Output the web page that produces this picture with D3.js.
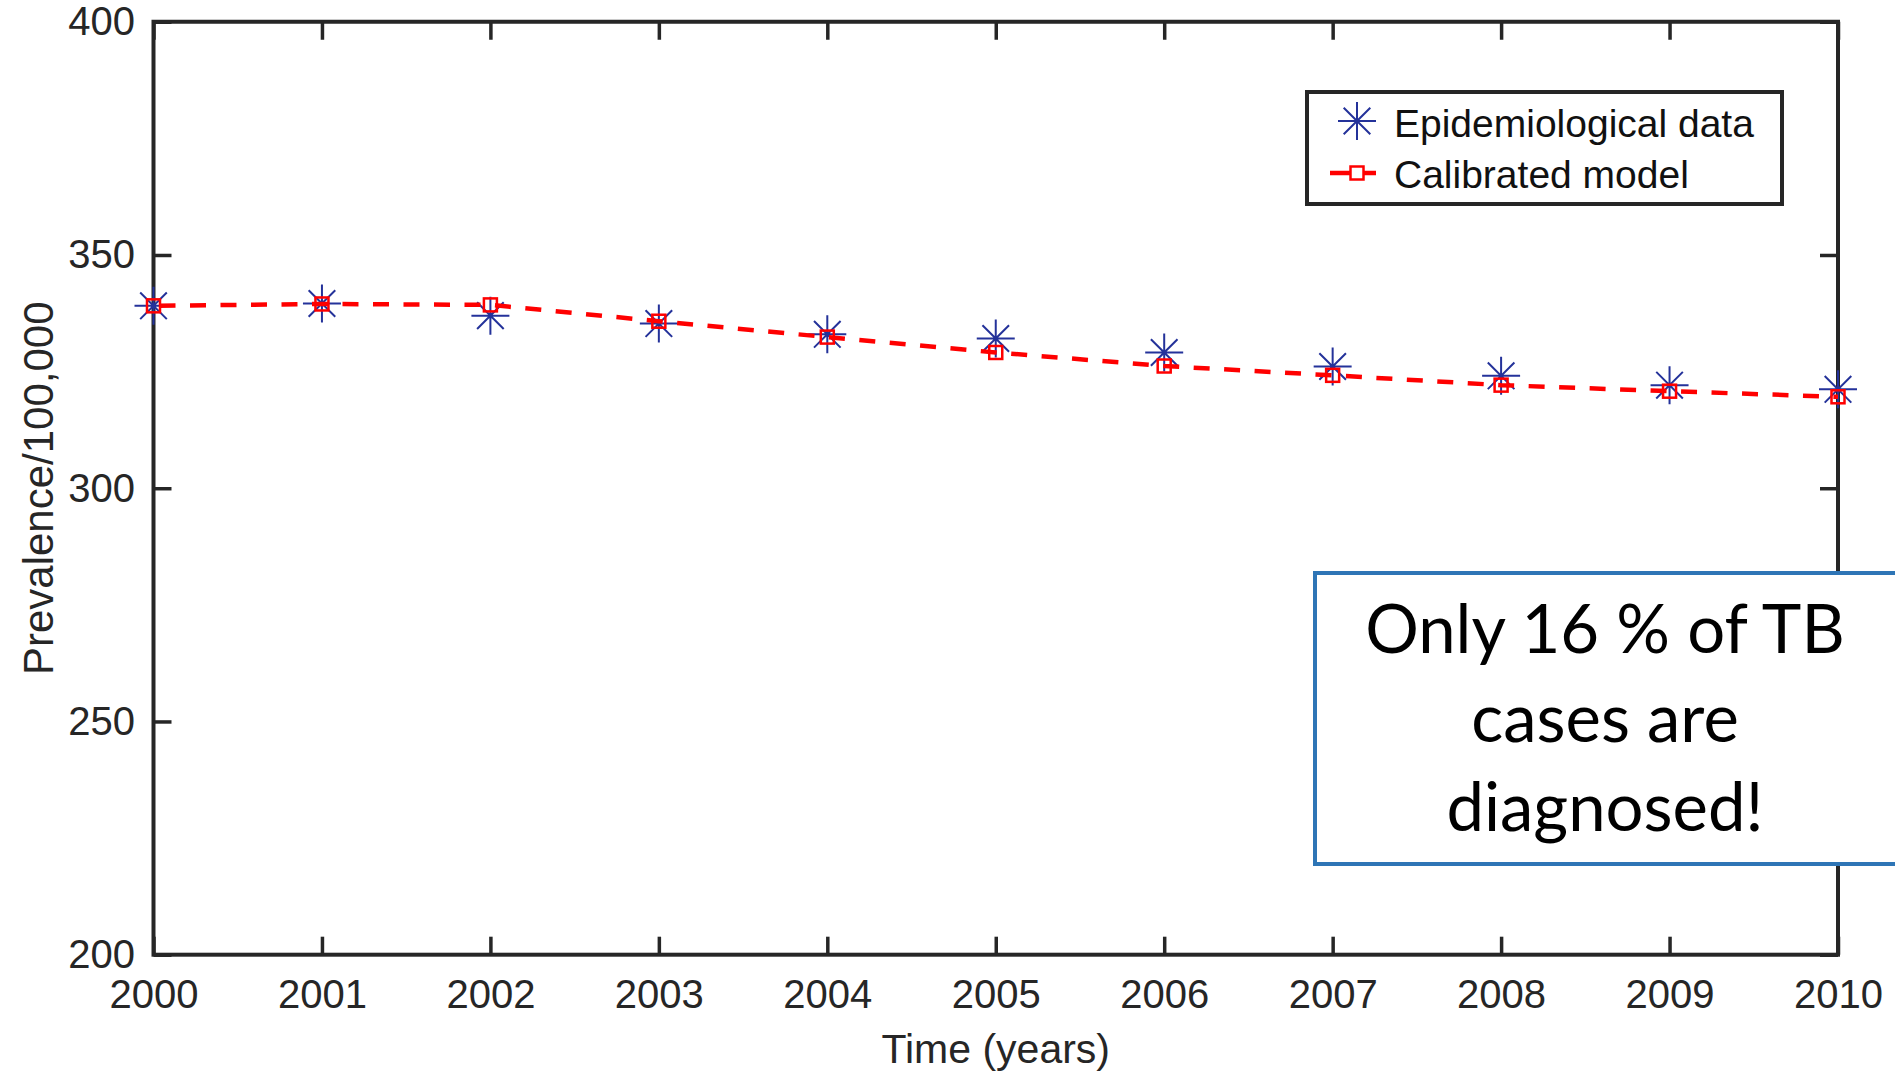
<!DOCTYPE html>
<html>
<head>
<meta charset="utf-8">
<script src="https://cdn.jsdelivr.net/npm/d3@7"></script>
<style>
  body { margin: 0; background: #fff; }
  svg { display: block; }
</style>
</head>
<body>
<div id="chart"></div>
<script>
// data
var years = [2000, 2001, 2002, 2003, 2004, 2005, 2006, 2007, 2008, 2009, 2010]
var epiData = [339.1, 339.6, 337.0, 335.3, 333.0, 332.1, 329.1, 326.1, 324.1, 322.1, 321.2]
var modelData = [339.1, 339.5, 339.3, 335.8, 332.4, 329.1, 326.2, 324.2, 322.1, 320.8, 319.6]
var yTicks = [200, 250, 300, 350, 400]
var legendLabels = ["Epidemiological data", "Calibrated model"]
var noteLines = ["Only 16 % of TB", "cases are", "diagnosed!"]

var width = 1895, height = 1073
var plotLeft = 153.5, plotRight = 1838, plotTop = 21.75, plotBottom = 954.7
var axisColor = "#262626"
var starColor = "#24329a"
var modelColor = "#ff0000"

var svg = d3.select("#chart").append("svg")
            .attr("width", width)
            .attr("height", height)

svg.append("rect")
   .attr("width", width)
   .attr("height", height)
   .attr("fill", "#fff")

var x = d3.scaleLinear().domain([2000, 2010]).range([plotLeft, plotRight])
var y = d3.scaleLinear().domain([200, 400]).range([plotBottom, plotTop])

// axes, ticks pointing inward
var axisFont = "'Liberation Sans', Arial, sans-serif"

svg.append("g")
   .attr("transform", "translate(0," + plotBottom + ")")
   .call(d3.axisBottom(x).tickValues(years).tickFormat(d3.format("d"))
           .tickSize(-18).tickSizeOuter(0).tickPadding(25))
svg.append("g")
   .attr("transform", "translate(" + plotLeft + ",0)")
   .call(d3.axisLeft(y).tickValues(yTicks)
           .tickSize(-18).tickSizeOuter(0).tickPadding(18.5))
svg.append("g")
   .attr("transform", "translate(0," + plotTop + ")")
   .call(d3.axisTop(x).tickValues(years).tickFormat("")
           .tickSize(-18).tickSizeOuter(0))
svg.append("g")
   .attr("transform", "translate(" + plotRight + ",0)")
   .call(d3.axisRight(y).tickValues(yTicks).tickFormat("")
           .tickSize(-18).tickSizeOuter(0))

svg.selectAll(".domain").remove()
svg.selectAll(".tick line")
   .attr("stroke", axisColor)
   .attr("stroke-width", 3.5)
svg.selectAll(".tick text")
   .attr("fill", axisColor)
   .attr("font-family", axisFont)
   .attr("font-size", 40)

// frame
svg.append("rect")
   .attr("x", plotLeft)
   .attr("y", plotTop)
   .attr("width", plotRight - plotLeft)
   .attr("height", plotBottom - plotTop)
   .attr("fill", "none")
   .attr("stroke", axisColor)
   .attr("stroke-width", 4)

// axis titles
svg.append("text")
   .attr("x", (plotLeft + plotRight) / 2)
   .attr("y", 1063)
   .attr("text-anchor", "middle")
   .attr("font-family", axisFont)
   .attr("font-size", 41)
   .attr("fill", axisColor)
   .text("Time (years)")

svg.append("text")
   .attr("transform", "translate(53," + (plotTop + plotBottom) / 2 + ") rotate(-90)")
   .attr("text-anchor", "middle")
   .attr("font-family", axisFont)
   .attr("font-size", 42)
   .attr("fill", axisColor)
   .text("Prevalence/100,000")

// star marker like matlab '*'
function star(r) {
  var d = r * 0.7
  return "M" + (-r) + ",0L" + r + ",0M0," + (-r) + "L0," + r +
         "M" + (-d) + "," + (-d) + "L" + d + "," + d +
         "M" + (-d) + "," + d + "L" + d + "," + (-d)
}

var pts = years.map(function(yr, i) { return {year: yr, epi: epiData[i], model: modelData[i]} })

svg.append("g").selectAll("path")
   .data(pts)
   .enter().append("path")
   .attr("transform", function(d) { return "translate(" + x(d.year) + "," + y(d.epi) + ")" })
   .attr("d", star(19))
   .attr("stroke", starColor)
   .attr("stroke-width", 2)
   .attr("fill", "none")

var line = d3.line()
             .x(function(d) { return x(d.year) })
             .y(function(d) { return y(d.model) })

svg.append("path")
   .datum(pts)
   .attr("d", line)
   .attr("fill", "none")
   .attr("stroke", modelColor)
   .attr("stroke-width", 4.5)
   .attr("stroke-dasharray", "16,14.5")
   .attr("stroke-dashoffset", -6)

svg.append("g").selectAll("rect")
   .data(pts)
   .enter().append("rect")
   .attr("x", function(d) { return x(d.year) - 6.5 })
   .attr("y", function(d) { return y(d.model) - 6.5 })
   .attr("width", 13)
   .attr("height", 13)
   .attr("fill", "none")
   .attr("stroke", modelColor)
   .attr("stroke-width", 2.5)

// legend
var legend = svg.append("g")
legend.append("rect")
      .attr("x", 1307)
      .attr("y", 92)
      .attr("width", 475)
      .attr("height", 112)
      .attr("fill", "#fff")
      .attr("stroke", axisColor)
      .attr("stroke-width", 4)

legend.append("path")
      .attr("transform", "translate(1357,121)")
      .attr("d", star(19))
      .attr("stroke", starColor)
      .attr("stroke-width", 2)
      .attr("fill", "none")

legend.append("line")
      .attr("x1", 1330).attr("x2", 1376)
      .attr("y1", 173).attr("y2", 173)
      .attr("stroke", modelColor)
      .attr("stroke-width", 4.5)
legend.append("rect")
      .attr("x", 1350.5).attr("y", 166.5)
      .attr("width", 13).attr("height", 13)
      .attr("fill", "#fff")
      .attr("stroke", modelColor)
      .attr("stroke-width", 2.5)

legend.selectAll("text")
      .data(legendLabels)
      .enter().append("text")
      .attr("x", 1394)
      .attr("y", function(d, i) { return 137 + i * 51 })
      .attr("font-family", axisFont)
      .attr("font-size", 39)
      .attr("fill", "#111")
      .text(function(d) { return d })

// annotation box
svg.append("rect")
   .attr("x", 1315)
   .attr("y", 573)
   .attr("width", 600)
   .attr("height", 291)
   .attr("fill", "#fff")
   .attr("stroke", "#2e75b6")
   .attr("stroke-width", 4)

svg.append("g").selectAll("text")
   .data(noteLines)
   .enter().append("text")
   .attr("x", 1605)
   .attr("y", function(d, i) { return 653 + i * 89 })
   .attr("text-anchor", "middle")
   .attr("font-family", "Lato, 'Open Sans', sans-serif")
   .attr("font-size", 67)
   .attr("fill", "#000")
   .text(function(d) { return d })
</script>
</body>
</html>
